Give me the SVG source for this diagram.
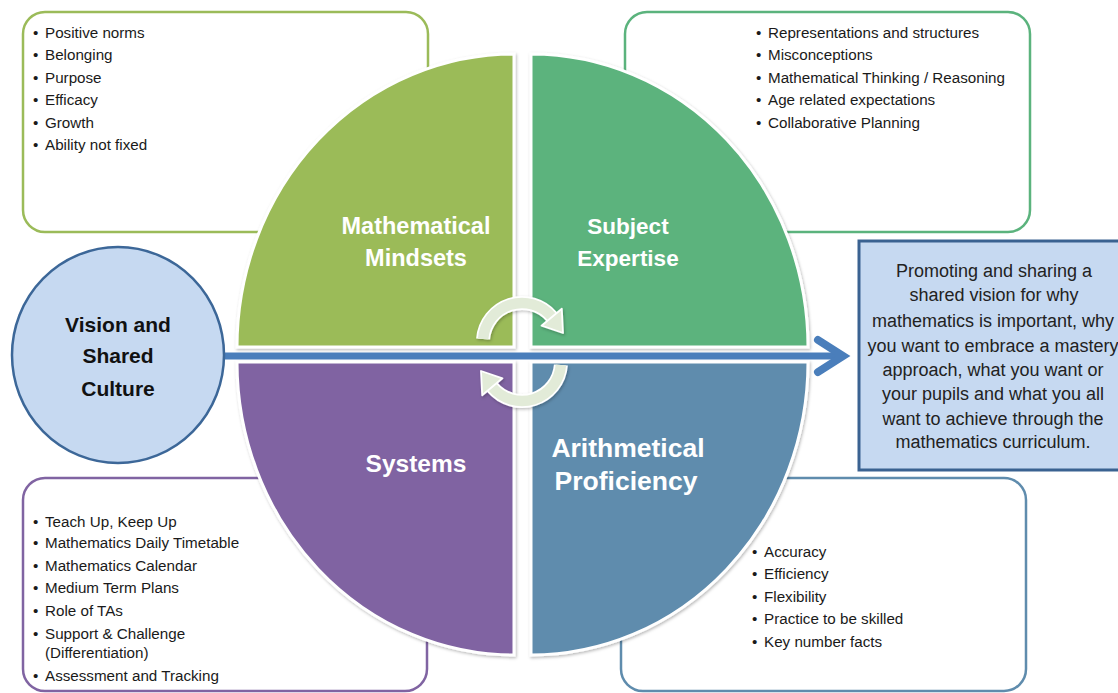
<svg xmlns="http://www.w3.org/2000/svg" width="1118" height="693" viewBox="0 0 1118 693">
<style>
.box{fill:#fff;stroke-width:2.5}
.li{font-family:"Liberation Sans",Arial,sans-serif;font-size:15.2px;fill:#1a1a1a}
.q{font-family:"Liberation Sans",Arial,sans-serif;font-weight:bold;fill:#fff;text-anchor:middle}
.vc{font-family:"Liberation Sans",Arial,sans-serif;font-weight:bold;font-size:21px;fill:#111;text-anchor:middle}
.rb{font-family:"Liberation Sans",Arial,sans-serif;font-size:18px;fill:#222;text-anchor:middle}
.quad{stroke:#fff;stroke-width:3;filter:url(#sh)}
.rot{fill:none;stroke-linecap:butt}
</style>
<defs>
<filter id="sh" x="-10%" y="-10%" width="120%" height="120%">
<feDropShadow dx="1" dy="1.5" stdDeviation="1.8" flood-color="#000" flood-opacity="0.28"/>
</filter>
<filter id="sh2" x="-20%" y="-20%" width="140%" height="140%">
<feDropShadow dx="1" dy="1.5" stdDeviation="1.5" flood-color="#000" flood-opacity="0.25"/>
</filter>
</defs>
<rect width="1118" height="693" fill="#fff"/>

<g id="box-mindsets">
<rect class="box" x="23" y="12" width="405" height="220" rx="22" stroke="#9BBB59"/>
<text class="li"><tspan x="33" y="38">•</tspan><tspan x="45" y="38">Positive norms</tspan></text>
<text class="li"><tspan x="33" y="60">•</tspan><tspan x="45" y="60">Belonging</tspan></text>
<text class="li"><tspan x="33" y="83">•</tspan><tspan x="45" y="83">Purpose</tspan></text>
<text class="li"><tspan x="33" y="105">•</tspan><tspan x="45" y="105">Efficacy</tspan></text>
<text class="li"><tspan x="33" y="128">•</tspan><tspan x="45" y="128">Growth</tspan></text>
<text class="li"><tspan x="33" y="150">•</tspan><tspan x="45" y="150">Ability not fixed</tspan></text>
</g>

<g id="box-expertise">
<rect class="box" x="625" y="12" width="405" height="220" rx="22" stroke="#5BB37D"/>
<text class="li"><tspan x="756" y="38">•</tspan><tspan x="768" y="38">Representations and structures</tspan></text>
<text class="li"><tspan x="756" y="60">•</tspan><tspan x="768" y="60">Misconceptions</tspan></text>
<text class="li"><tspan x="756" y="83">•</tspan><tspan x="768" y="83">Mathematical Thinking / Reasoning</tspan></text>
<text class="li"><tspan x="756" y="105">•</tspan><tspan x="768" y="105">Age related expectations</tspan></text>
<text class="li"><tspan x="756" y="128">•</tspan><tspan x="768" y="128">Collaborative Planning</tspan></text>
</g>

<g id="box-systems">
<rect class="box" x="23" y="478" width="404" height="213" rx="22" stroke="#8064A2"/>
<text class="li"><tspan x="33" y="527">•</tspan><tspan x="45" y="527">Teach Up, Keep Up</tspan></text>
<text class="li"><tspan x="33" y="548">•</tspan><tspan x="45" y="548">Mathematics Daily Timetable</tspan></text>
<text class="li"><tspan x="33" y="571">•</tspan><tspan x="45" y="571">Mathematics Calendar</tspan></text>
<text class="li"><tspan x="33" y="593">•</tspan><tspan x="45" y="593">Medium Term Plans</tspan></text>
<text class="li"><tspan x="33" y="616">•</tspan><tspan x="45" y="616">Role of TAs</tspan></text>
<text class="li"><tspan x="33" y="639">•</tspan><tspan x="45" y="639">Support &amp; Challenge</tspan></text>
<text class="li"><tspan x="45" y="658">(Differentiation)</tspan></text>
<text class="li"><tspan x="33" y="681">•</tspan><tspan x="45" y="681">Assessment and Tracking</tspan></text>
</g>

<g id="box-arithmetical">
<rect class="box" x="621" y="478" width="405" height="213" rx="22" stroke="#5F8CAD"/>
<text class="li"><tspan x="752" y="557">•</tspan><tspan x="764" y="557">Accuracy</tspan></text>
<text class="li"><tspan x="752" y="579">•</tspan><tspan x="764" y="579">Efficiency</tspan></text>
<text class="li"><tspan x="752" y="602">•</tspan><tspan x="764" y="602">Flexibility</tspan></text>
<text class="li"><tspan x="752" y="624">•</tspan><tspan x="764" y="624">Practice to be skilled</tspan></text>
<text class="li"><tspan x="752" y="647">•</tspan><tspan x="764" y="647">Key number facts</tspan></text>
</g>

<g id="quad-mindsets">
<path class="quad" fill="#9BBB59" d="M514,347 L237,347 A277,293 0 0 1 514,54 Z"/>
<text class="q" font-size="23.5" x="416" y="234">Mathematical</text>
<text class="q" font-size="23.5" x="416" y="266">Mindsets</text>
</g>
<g id="quad-expertise">
<path class="quad" fill="#5BB37D" d="M531,347 L531,54 A277,293 0 0 1 808,347 Z"/>
<text class="q" font-size="22.5" x="628" y="234">Subject</text>
<text class="q" font-size="22.5" x="628" y="266">Expertise</text>
</g>
<g id="quad-systems">
<path class="quad" fill="#8064A2" d="M514,362 L514,655 A277,293 0 0 1 237,362 Z"/>
<text class="q" font-size="24.5" x="416" y="472">Systems</text>
</g>
<g id="quad-arithmetical">
<path class="quad" fill="#5F8CAD" d="M531,362 L808,362 A277,293 0 0 1 531,655 Z"/>
<text class="q" font-size="26.5" x="628" y="457">Arithmetical</text>
<text class="q" font-size="26.5" x="626" y="490">Proficiency</text>
</g>

<g id="rotate-arrows" filter="url(#sh2)">
<g id="rot-top">
<path class="rot" d="M483.1,339 A39,39 0 0 1 551.9,317" stroke="#fff" stroke-width="14"/>
<path class="rot" d="M483.1,339 A39,39 0 0 1 551.9,317" stroke="#E2EBD8" stroke-width="10.5"/>
<polygon points="561.8,308.7 541.5,325.7 563,333" fill="#E2EBD8" stroke="#fff" stroke-width="1.8" stroke-linejoin="round"/>
</g>
<g id="rot-bottom" transform="rotate(180 522 352)">
<path class="rot" d="M483.1,339 A39,39 0 0 1 551.9,317" stroke="#fff" stroke-width="14"/>
<path class="rot" d="M483.1,339 A39,39 0 0 1 551.9,317" stroke="#E2EBD8" stroke-width="10.5"/>
<polygon points="561.8,308.7 541.5,325.7 563,333" fill="#E2EBD8" stroke="#fff" stroke-width="1.8" stroke-linejoin="round"/>
</g>
</g>

<g id="connectors">
<line x1="222" y1="356" x2="842" y2="356" stroke="#4A7EBB" stroke-width="7"/>
<polyline points="818,340 843,356 818,372" fill="none" stroke="#4A7EBB" stroke-width="8" stroke-linecap="round" stroke-linejoin="miter"/>
</g>

<g id="node-vision">
<ellipse cx="118" cy="355" rx="106" ry="108" fill="#C6D9F1" stroke="#3C6798" stroke-width="2.5"/>
<text class="vc" x="118" y="332">Vision and</text>
<text class="vc" x="118" y="363">Shared</text>
<text class="vc" x="118" y="396">Culture</text>
</g>

<g id="node-promoting">
<rect x="859" y="241" width="280" height="229" fill="#C6D9F1" stroke="#3A6291" stroke-width="3"/>
<text class="rb" x="994" y="277">Promoting and sharing a</text>
<text class="rb" x="994" y="301">shared vision for why</text>
<text class="rb" x="993" y="327">mathematics is important, why</text>
<text class="rb" x="993" y="352">you want to embrace a mastery</text>
<text class="rb" x="993" y="376">approach, what you want or</text>
<text class="rb" x="993" y="400">your pupils and what you all</text>
<text class="rb" x="993" y="425">want to achieve through the</text>
<text class="rb" x="993" y="448">mathematics curriculum.</text>
</g>
</svg>
